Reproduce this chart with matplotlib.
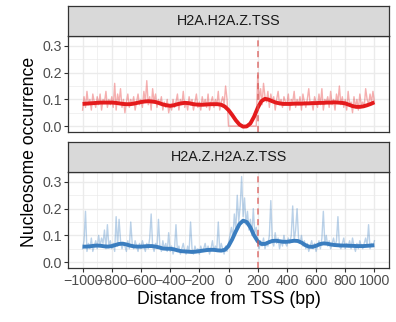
import numpy as np
import matplotlib
matplotlib.use("Agg")
import matplotlib.pyplot as plt

plt.rcParams['font.family'] = ['Liberation Sans', 'DejaVu Sans']

panels = ['H2A.H2A.Z.TSS', 'H2A.Z.H2A.Z.TSS']
tss_line = 200

# raw occurrence, every 10 bp from -1000 to 1000
raw_x = np.arange(-1000, 1001, 10)
raw_red = [
    0.06, 0.11, 0.07, 0.13, 0.08, 0.10, 0.06, 0.12, 0.09, 0.07, 0.11, 0.08, 0.12, 0.06, 0.10, 0.09, 0.13, 0.07, 0.10, 0.08,
    0.11, 0.07, 0.16, 0.06, 0.12, 0.09, 0.14, 0.07, 0.10, 0.05, 0.09, 0.12, 0.07, 0.10, 0.08, 0.11, 0.06, 0.09, 0.12, 0.08,
    0.10, 0.07, 0.13, 0.09, 0.17, 0.08, 0.11, 0.06, 0.14, 0.09, 0.12, 0.07, 0.10, 0.08, 0.11, 0.06, 0.09, 0.07, 0.10, 0.05,
    0.08, 0.06, 0.10, 0.07, 0.09, 0.12, 0.06, 0.10, 0.08, 0.13, 0.07, 0.09, 0.06, 0.11, 0.08, 0.10, 0.06, 0.09, 0.12, 0.07,
    0.09, 0.06, 0.11, 0.08, 0.10, 0.07, 0.12, 0.06, 0.09, 0.11, 0.07, 0.10, 0.08, 0.13, 0.06, 0.09, 0.11, 0.08, 0.15, 0.10,
    0.0, 0.0, 0.0, 0.0, 0.0, 0.0, 0.0, 0.0, 0.0, 0.0, 0.0, 0.0, 0.0, 0.0, 0.0, 0.0, 0.0, 0.0, 0.0, 0.0,
    0.19, 0.10, 0.14, 0.08, 0.16, 0.11, 0.09, 0.13, 0.07, 0.12, 0.09, 0.11, 0.06, 0.10, 0.13, 0.08, 0.10, 0.07, 0.11, 0.09,
    0.08, 0.12, 0.06, 0.10, 0.09, 0.13, 0.07, 0.10, 0.08, 0.11, 0.06, 0.12, 0.09, 0.07, 0.10, 0.14, 0.08, 0.09, 0.06, 0.11,
    0.09, 0.07, 0.12, 0.08, 0.14, 0.06, 0.10, 0.09, 0.11, 0.07, 0.13, 0.08, 0.10, 0.06, 0.12, 0.09, 0.15, 0.08, 0.11, 0.07,
    0.10, 0.06, 0.13, 0.08, 0.09, 0.05, 0.11, 0.07, 0.10, 0.06, 0.12, 0.08, 0.09, 0.07, 0.14, 0.10, 0.08, 0.12, 0.09, 0.13,
    0.09,
]
raw_blue = [
    0.05, 0.08, 0.19, 0.04, 0.07, 0.05, 0.09, 0.04, 0.06, 0.08, 0.05, 0.10, 0.06, 0.09, 0.07, 0.12, 0.05, 0.14, 0.06, 0.08,
    0.05, 0.07, 0.04, 0.17, 0.06, 0.16, 0.08, 0.05, 0.07, 0.06, 0.04, 0.08, 0.05, 0.15, 0.07, 0.05, 0.08, 0.06, 0.04, 0.07,
    0.05, 0.08, 0.06, 0.04, 0.07, 0.05, 0.09, 0.18, 0.06, 0.04, 0.07, 0.05, 0.16, 0.06, 0.04, 0.08, 0.05, 0.07, 0.04, 0.11,
    0.04, 0.06, 0.03, 0.05, 0.14, 0.04, 0.06, 0.03, 0.05, 0.07, 0.04, 0.03, 0.06, 0.04, 0.15, 0.05, 0.03, 0.06, 0.04, 0.05,
    0.03, 0.06, 0.04, 0.05, 0.07, 0.04, 0.06, 0.03, 0.05, 0.08, 0.04, 0.06, 0.05, 0.15, 0.04, 0.07, 0.05, 0.03, 0.06, 0.04,
    0.07, 0.10, 0.13, 0.09, 0.18, 0.12, 0.25, 0.15, 0.21, 0.32, 0.17, 0.24, 0.14, 0.19, 0.12, 0.16, 0.10, 0.20, 0.11, 0.13,
    0.07, 0.05, 0.08, 0.06, 0.09, 0.05, 0.07, 0.06, 0.10, 0.23, 0.08, 0.06, 0.11, 0.07, 0.09, 0.05, 0.08, 0.06, 0.10, 0.07,
    0.06, 0.09, 0.07, 0.10, 0.21, 0.08, 0.12, 0.20, 0.09, 0.07, 0.10, 0.06, 0.08, 0.05, 0.07, 0.04, 0.06, 0.08, 0.05, 0.07,
    0.04, 0.06, 0.08, 0.05, 0.09, 0.19, 0.07, 0.10, 0.06, 0.08, 0.05, 0.07, 0.09, 0.06, 0.08, 0.17, 0.06, 0.05, 0.07, 0.09,
    0.05, 0.07, 0.06, 0.08, 0.05, 0.09, 0.06, 0.04, 0.07, 0.05, 0.08, 0.06, 0.05, 0.07, 0.09, 0.06, 0.14, 0.05, 0.07, 0.06,
    0.08,
]

# smoothed trend, every 25 bp
smooth_x = np.arange(-1000, 1001, 25)
smooth_red = [
    0.083, 0.084, 0.085, 0.086, 0.087, 0.088, 0.088, 0.088, 0.088, 0.087,
    0.085, 0.083, 0.082, 0.082, 0.084, 0.087, 0.090, 0.092, 0.093, 0.092,
    0.090, 0.086, 0.081, 0.078, 0.076, 0.078, 0.082, 0.085, 0.087, 0.086,
    0.083, 0.081, 0.080, 0.080, 0.081, 0.082, 0.082, 0.082, 0.080, 0.073,
    0.060, 0.042, 0.022, 0.006, -0.002, -0.001, 0.010, 0.035, 0.068, 0.093,
    0.102, 0.099, 0.093, 0.088, 0.085, 0.083, 0.083, 0.083, 0.084, 0.084,
    0.084, 0.085, 0.085, 0.086, 0.086, 0.087, 0.087, 0.088, 0.088, 0.089,
    0.088, 0.087, 0.085, 0.080, 0.075, 0.072, 0.072, 0.074, 0.078, 0.083,
    0.089,
]
smooth_blue = [
    0.058, 0.058, 0.059, 0.061, 0.062, 0.061, 0.059, 0.058, 0.060, 0.064,
    0.068, 0.069, 0.066, 0.062, 0.059, 0.058, 0.058, 0.059, 0.060, 0.060,
    0.058, 0.055, 0.051, 0.050, 0.050, 0.048, 0.044, 0.041, 0.040, 0.039,
    0.038, 0.039, 0.041, 0.043, 0.045, 0.046, 0.046, 0.044, 0.043, 0.046,
    0.060, 0.085, 0.115, 0.142, 0.155, 0.150, 0.130, 0.100, 0.078, 0.068,
    0.068, 0.074, 0.079, 0.080, 0.078, 0.076, 0.076, 0.078, 0.080, 0.079,
    0.073, 0.064, 0.058, 0.057, 0.061, 0.067, 0.070, 0.069, 0.066, 0.064,
    0.063, 0.062, 0.062, 0.061, 0.061, 0.060, 0.060, 0.060, 0.061, 0.062,
    0.063,
]

raw_series = [raw_red, raw_blue]
smooth_series = [smooth_red, smooth_blue]
colors = ['#e41a1c', '#3a7dbf']

W, H = 396, 322
fig = plt.figure(figsize=(W / 100, H / 100), dpi=100)

# pixel boxes: (strip top, plot top, plot bottom)
boxes = [(6, 36, 132), (142, 172, 268)]
left, right = 68, 389

for i, (s_top, p_top, p_bot) in enumerate(boxes):
    ax = fig.add_axes([left / W, 1 - p_bot / H, (right - left) / W, (p_bot - p_top) / H])
    ax.plot(raw_x, raw_series[i], color=colors[i], alpha=0.35, lw=1.0)
    ax.plot(smooth_x, smooth_series[i], color=colors[i], lw=2.8, solid_capstyle='butt')
    ax.axvline(tss_line, color='#d9534f', ls=(0, (4, 3)), lw=1.1, alpha=0.8)

    ax.set_xlim(-1100, 1100)
    ax.set_ylim(-0.022, 0.337)
    ax.set_xticks(np.arange(-1000, 1001, 200))
    ax.set_xticks(np.arange(-900, 1000, 200), minor=True)
    ax.set_yticks([0.0, 0.1, 0.2, 0.3])
    ax.set_yticks([0.05, 0.15, 0.25], minor=True)
    ax.set_yticklabels(['0.0', '0.1', '0.2', '0.3'])
    ax.grid(which='major', color='#ebebeb', lw=1.0)
    ax.grid(which='minor', color='#ebebeb', lw=0.5)
    ax.set_axisbelow(True)
    for sp in ax.spines.values():
        sp.set_color('#333333')
        sp.set_linewidth(0.9)
    ax.tick_params(which='major', length=3, width=0.8, color='#333333',
                   labelsize=10.2, labelcolor='#4d4d4d', pad=1.5)
    ax.tick_params(which='minor', length=0)
    if i == 0:
        ax.tick_params(axis='x', labelbottom=False, length=0)
    else:
        ax.set_xticklabels(['\u2212' + str(-v) if v < 0 else str(v)
                            for v in range(-1000, 1001, 200)])

    # facet strip
    st = fig.add_axes([left / W, 1 - p_top / H, (right - left) / W, (p_top - s_top) / H])
    st.set_facecolor('#d9d9d9')
    st.set_xticks([])
    st.set_yticks([])
    for sp in st.spines.values():
        sp.set_color('#333333')
        sp.set_linewidth(0.9)
    st.text(0.5, 0.5, panels[i], ha='center', va='center', fontsize=10.3,
            color='#1a1a1a', transform=st.transAxes)

fig.text(30 / W, 1 - 152 / H, 'Nucleosome occurrence', rotation=90,
         ha='center', va='center', fontsize=12.7)
fig.text((left + right) / 2 / W, 1 - 300 / H, 'Distance from TSS (bp)',
         ha='center', va='center', fontsize=12.7)

fig.savefig('out.png', dpi=100)
